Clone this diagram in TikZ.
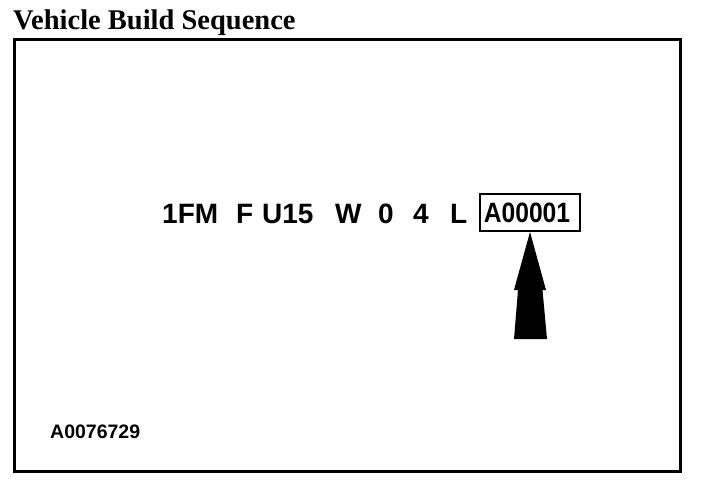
\documentclass[tikz,border=0pt]{standalone}
\usepackage{fontspec}
\setmainfont{Liberation Serif}
\newfontfamily\vinfont{Liberation Sans}
\newfontfamily\vincond[FakeStretch=0.88]{Liberation Sans}
\begin{document}
\begin{tikzpicture}[x=1pt,y=-1pt,
  vin/.style={anchor=base west,inner sep=0pt,font=\vinfont\bfseries\fontsize{28}{30}\selectfont},
  small/.style={anchor=base west,inner sep=0pt,font=\vinfont\bfseries\fontsize{19.5}{22}\selectfont},
  frame/.style={line width=3pt},
  seqbox/.style={draw,line width=2pt,minimum width=100pt,minimum height=37pt,inner sep=0pt,font=\vincond\bfseries\fontsize{28}{30}\selectfont}]
\useasboundingbox (0,0) rectangle (704,490);
\node[anchor=base west,inner sep=0pt,font=\bfseries\fontsize{28.5}{30}\selectfont] (title) at (13,29) {Vehicle Build Sequence};
\draw[frame] (14,39.5) rectangle (680.5,471);
\node[vin] (p1) at (162,223) {1FM};
\node[vin] (p2) at (236,223) {F};
\node[vin] (p3) at (262,223) {U15};
\node[vin] (p4) at (335,223) {W};
\node[vin] (p5) at (378,223) {0};
\node[vin] (p6) at (413,223) {4};
\node[vin] (p7) at (450,223) {L};
\node[seqbox] (seq) at (530,212.5) {\hspace*{-6pt}A00001};
\coordinate (tip) at (530,232);
\fill (tip) -- (546,290) -- (542.5,290) -- (547,339) -- (514,339) -- (518,290) -- (514,290) -- cycle;
\node[small] (ref) at (50,438) {A0076729};
\end{tikzpicture}
\end{document}
